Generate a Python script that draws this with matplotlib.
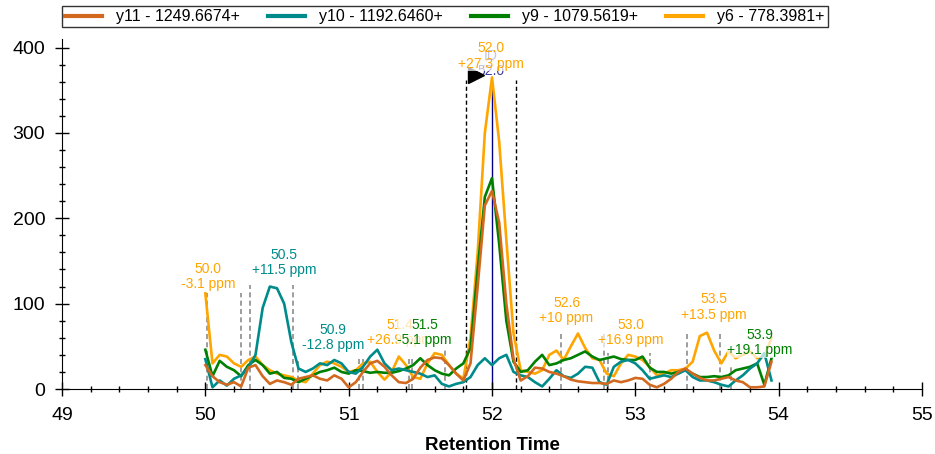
import matplotlib
matplotlib.use("Agg")
import matplotlib.pyplot as plt
from matplotlib.ticker import MultipleLocator

plt.rcParams['font.family'] = ['Liberation Sans', 'DejaVu Sans']

# retention times, 0.05 min apart
rt = [50.00 + 0.05 * i for i in range(80)]

y11 = [28, 15, 8, 5, 8, 3, 25, 28, 15, 6,
       10, 8, 5, 12, 14, 16, 12, 10, 16, 12,
       2, 8, 20, 30, 33, 26, 16, 8, 7, 12,
       25, 34, 37, 36, 28, 18, 10, 30, 120, 215,
       232, 195, 100, 35, 10, 15, 25, 24, 20, 18,
       15, 11, 9, 8, 7, 7, 6, 10, 8, 10,
       13, 12, 5, 2, 6, 12, 20, 24, 18, 13,
       10, 10, 12, 14, 10, 8, 2, 2, 3, 32]

y10 = [35, 2, 10, 4, 12, 16, 25, 40, 95, 120,
       118, 100, 55, 24, 20, 24, 30, 28, 34, 30,
       20, 18, 26, 38, 46, 30, 22, 24, 22, 20,
       18, 14, 16, 6, 3, 6, 8, 14, 28, 36,
       28, 36, 40, 20, 16, 14, 8, 3, 12, 22,
       15, 13, 18, 26, 25, 8, 5, 26, 32, 34,
       30, 22, 12, 14, 16, 14, 18, 22, 14, 10,
       10, 8, 5, 3, 10, 16, 24, 30, 42, 10]

y9 = [46, 15, 33, 26, 22, 15, 28, 34, 28, 18,
      20, 13, 12, 8, 12, 16, 20, 22, 25, 20,
      18, 22, 21, 19, 20, 19, 19, 21, 24, 28,
      36, 28, 22, 18, 16, 24, 30, 48, 140, 225,
      247, 170, 80, 32, 20, 22, 32, 40, 28, 30,
      34, 36, 40, 44, 38, 34, 36, 38, 35, 34,
      34, 38, 25, 20, 20, 18, 20, 22, 18, 14,
      14, 15, 14, 16, 22, 24, 26, 30, 5, 36]

y6 = [112, 30, 40, 38, 30, 26, 34, 38, 28, 22,
      18, 16, 14, 10, 8, 18, 28, 32, 30, 26,
      20, 22, 30, 32, 20, 11, 20, 38, 28, 14,
      12, 30, 42, 40, 28, 18, 12, 60, 160, 300,
      365, 290, 175, 65, 22, 20, 18, 22, 40, 45,
      34, 50, 65, 48, 36, 34, 18, 15, 30, 40,
      38, 34, 26, 16, 18, 22, 22, 24, 32, 62,
      66, 45, 30, 44, 36, 40, 44, 36, 38, 60]

series_names = ["y11 - 1249.6674+", "y10 - 1192.6460+", "y9 - 1079.5619+", "y6 - 778.3981+"]
series_colors = ["#D2691E", "#008B8B", "#008000", "#FFA500"]

# peak labels: apex text, mass error, ion colour, label anchor rt / height
ann_text = ["50.0", "50.5", "50.9", "51.4", "51.5", "52.6", "53.0", "53.5", "53.9"]
ann_ppm = ["-3.1 ppm", "+11.5 ppm", "-12.8 ppm", "+26.9 ppm", "-5.1 ppm",
           "+10 ppm", "+16.9 ppm", "+13.5 ppm", "+19.1 ppm"]
ann_color = ["#FFA500", "#008B8B", "#008B8B", "#FFA500", "#008000",
             "#FFA500", "#FFA500", "#FFA500", "#008000"]
ann_x = [50.02, 50.55, 50.89, 51.36, 51.53, 52.52, 52.97, 53.55, 53.87]
ann_y = [115, 131, 43, 49, 49, 75, 49, 79, 37]

# peak integration boundaries (rt, height)
bound_rt = [50.01, 50.25, 50.31, 50.61, 50.65, 51.07, 51.10, 51.42, 51.44, 51.67,
            52.48, 52.78, 52.81, 53.10, 53.36, 53.59, 53.67]
bound_h = [112, 112, 122, 122, 33, 38, 38, 38, 38, 48,
           65, 65, 42, 42, 67, 67, 28]

# identified peak
id_rt = 52.0
id_text = "52.0"
id_ppm = "+27.3 ppm"
id_bounds = [51.82, 52.17]
id_apex = 365

fig = plt.figure(figsize=(9.35, 4.54), dpi=100)
ax = fig.add_axes([62 / 935, 1 - 389 / 454, 860 / 935, 350 / 454])

ax.vlines(bound_rt, 0, bound_h, colors="#8c8c8c", linestyles=(0, (3, 2)), lw=1.2, zorder=1)
ax.vlines(id_bounds, 0, id_apex - 3, colors="black", linestyles=(0, (3, 2)), lw=1, zorder=1)
ax.vlines(id_rt, 0, id_apex - 10, colors="#00008B", lw=1, zorder=1)

handles = []
for ys, c in zip([y6, y9, y10, y11], series_colors[::-1]):
    ax.plot(rt, ys, color=c, lw=1.9, zorder=2)
for c in series_colors:
    handles.append(plt.Line2D([], [], color=c, lw=3))

box = dict(boxstyle="square,pad=0.05", fc="white", ec="none", alpha=0.7)
for t, p, c, x, y in zip(ann_text, ann_ppm, ann_color, ann_x, ann_y):
    ax.text(x, y, t + "\n" + p, color=c, fontsize=10, ha="center", va="bottom",
            linespacing=1.1, bbox=box, zorder=3)

ax.text(id_rt - 0.01, id_apex - 1, "ID\n" + id_text, color="#3c3ca0", fontsize=10,
        ha="center", va="bottom", linespacing=1.1, zorder=3)
ax.plot(id_rt - 0.11, id_apex + 3, marker=">", color="black", markersize=11, zorder=4)
ax.text(id_rt - 0.01, id_apex + 8, id_text + "\n" + id_ppm, color="#FFA500", fontsize=10,
        ha="center", va="bottom", linespacing=1.1, bbox=box, zorder=5)

ax.set_xlim(49, 55)
ax.set_ylim(0, 410)
ax.spines["top"].set_visible(False)
ax.spines["right"].set_visible(False)
ax.xaxis.set_major_locator(MultipleLocator(1))
ax.xaxis.set_minor_locator(MultipleLocator(0.2))
ax.yaxis.set_major_locator(MultipleLocator(100))
ax.yaxis.set_minor_locator(MultipleLocator(20))
ax.tick_params(which="major", direction="inout", length=10, width=1, labelsize=14)
ax.tick_params(axis="y", which="major", pad=7)
ax.tick_params(axis="x", which="major", pad=8)
ax.tick_params(which="minor", direction="inout", length=5, width=1)
ax.set_xlabel("Retention Time", fontsize=13.5, fontweight="bold", labelpad=9)

leg = fig.legend(handles, series_names, loc="upper left", bbox_to_anchor=(62 / 935, 1 - 6 / 454),
                 ncol=4, fontsize=11.5, frameon=True, fancybox=False, edgecolor="black",
                 handlelength=2.3, handletextpad=0.9, columnspacing=1.75,
                 borderpad=0.2, borderaxespad=0)
leg.get_frame().set_linewidth(1)

fig.savefig("out.png", dpi=100)
